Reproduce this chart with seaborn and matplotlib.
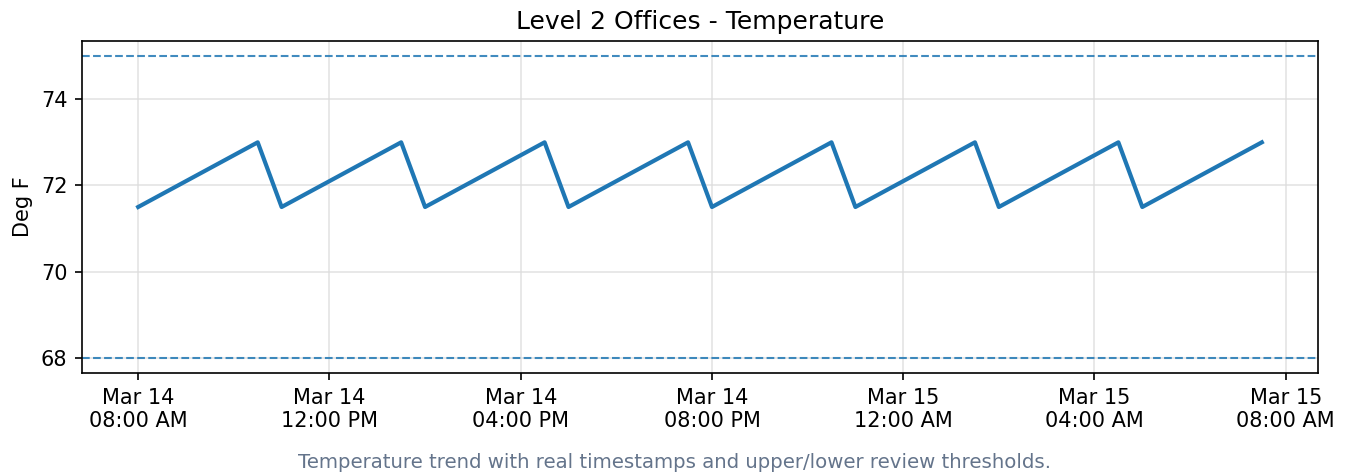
import matplotlib
matplotlib.use("Agg")
import matplotlib.pyplot as plt
import matplotlib.dates as mdates
import pandas as pd
import seaborn as sns

start_time = "2024-03-14 08:00"
interval = "30min"
temperature_f = [
    71.5, 71.8, 72.1, 72.4, 72.7, 73.0,
    71.5, 71.8, 72.1, 72.4, 72.7, 73.0,
    71.5, 71.8, 72.1, 72.4, 72.7, 73.0,
    71.5, 71.8, 72.1, 72.4, 72.7, 73.0,
    71.5, 71.8, 72.1, 72.4, 72.7, 73.0,
    71.5, 71.8, 72.1, 72.4, 72.7, 73.0,
    71.5, 71.8, 72.1, 72.4, 72.7, 73.0,
    71.5, 71.8, 72.1, 72.4, 72.7, 73.0,
]
upper_threshold = 75
lower_threshold = 68

df = pd.DataFrame({
    "time": pd.date_range(start_time, periods=len(temperature_f), freq=interval),
    "temp": temperature_f,
})

fig = plt.figure(figsize=(9, 475 / 150), dpi=150)
ax = fig.add_axes([82 / 1350, 1 - 373 / 475, (1318 - 82) / 1350, (373 - 41) / 475])

sns.lineplot(data=df, x="time", y="temp", ax=ax, color="#1f77b4", linewidth=2.0)
ax.axhline(upper_threshold, color="#1f77b4", linestyle="--", linewidth=1.0, alpha=0.85)
ax.axhline(lower_threshold, color="#1f77b4", linestyle="--", linewidth=1.0, alpha=0.85)

ax.xaxis.set_major_locator(mdates.HourLocator(byhour=range(0, 24, 4)))
ax.xaxis.set_major_formatter(mdates.DateFormatter("%b %d\n%I:%M %p"))
ax.set_yticks([68, 70, 72, 74])
ax.grid(True, color="#dddddd", linewidth=0.8, alpha=0.8)
ax.set_axisbelow(True)

ax.set_title("Level 2 Offices - Temperature", fontsize=12)
ax.set_xlabel("")
ax.set_ylabel("Deg F", fontsize=10)
ax.tick_params(labelsize=10)

fig.text(0.5, 13 / 475, "Temperature trend with real timestamps and upper/lower review thresholds.",
         ha="center", va="center", fontsize=9.5, color="#64748b")

fig.savefig("out.png", dpi=150)
